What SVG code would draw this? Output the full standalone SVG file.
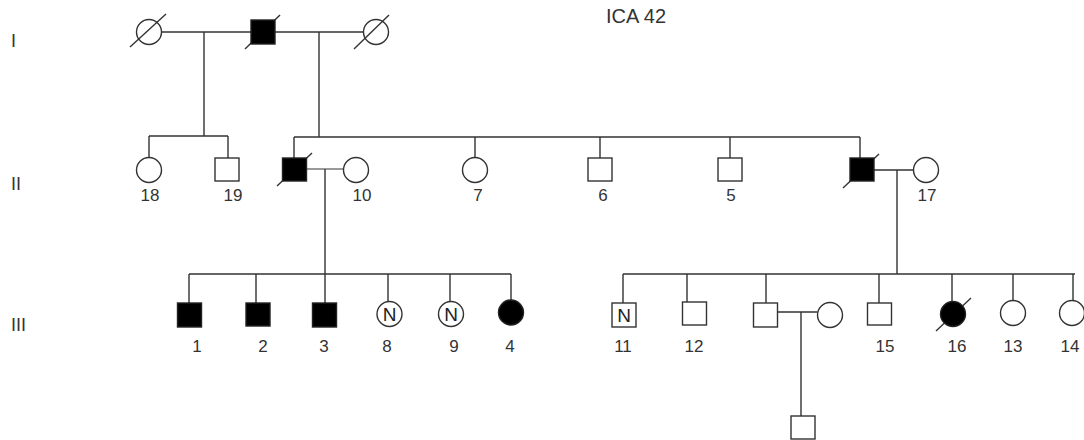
<svg xmlns="http://www.w3.org/2000/svg" width="1084" height="440" viewBox="0 0 1084 440">
<style>
.s{fill:#fff;stroke:#333;stroke-width:1.4}
.a{fill:#000;stroke:#222;stroke-width:1.4}
.l{stroke:#333;stroke-width:1.4;fill:none}
.g{stroke:#777;stroke-width:1.4;fill:none}
.t{font-family:"Liberation Sans",Arial,sans-serif;font-size:17px;fill:#333;text-anchor:middle}
.r{font-family:"Liberation Sans",Arial,sans-serif;font-size:18px;fill:#333}
.n{font-family:"Liberation Sans",Arial,sans-serif;font-size:19px;fill:#222;text-anchor:middle}
</style>
<rect width="1084" height="440" fill="#fff"/>
<text class="r" x="11" y="47">I</text>
<text class="r" x="11" y="190">II</text>
<text class="r" x="11" y="331">III</text>
<text x="606" y="23" font-family="Liberation Sans,Arial,sans-serif" font-size="20" fill="#333">ICA 42</text>
<g id="connectors">
<path class="l" d="M161.5,32H251M275,32H363.5M204,32V136M319,32V137"/>
<path class="l" d="M149,136H228M149,136V157.5M228,136V158"/>
<path class="l" d="M294,137H860M294,137V158M475,137V157.5M600,137V158M730,137V158M860,137V158"/>
<path class="g" d="M306,169H343.5"/>
<path class="l" d="M325,169V274"/>
<path class="l" d="M874,170H913.5M897,170V274"/>
<path class="l" d="M189,274H511M189,274V303M256,274V303M325,274V303M388,274V301.5M450,274V301.5M511,274V300"/>
<path class="l" d="M623,274H1075M623,274V303M687,274V302M766,274V303M879,274V303M952,274V301M1013,274V300.5M1073,274V300.5"/>
<path class="l" d="M778,312H817.5M801,312V416"/>
</g>
<g id="I-1"><circle class="s" cx="149" cy="32" r="12.5"/><path class="l" d="M130,47L166,14"/></g>
<g id="I-2"><path class="l" d="M245,49L280,15"/><rect class="a" x="251" y="20" width="24" height="24"/></g>
<g id="I-3"><circle class="s" cx="376" cy="32" r="12.5"/><path class="l" d="M354,49L389,15"/></g>
<g id="II-18"><circle class="s" cx="149" cy="170" r="12.5"/><text class="t" x="150" y="201">18</text></g>
<g id="II-19"><rect class="s" x="215" y="158" width="24" height="23"/><text class="t" x="233" y="201">19</text></g>
<g id="II-a"><path class="l" d="M277,186L312,153"/><rect class="a" x="282.5" y="158" width="24" height="23"/></g>
<g id="II-10"><circle class="s" cx="356" cy="170" r="12.5"/><text class="t" x="362" y="201">10</text></g>
<g id="II-7"><circle class="s" cx="475" cy="170" r="12.5"/><text class="t" x="478" y="201">7</text></g>
<g id="II-6"><rect class="s" x="588" y="158" width="24" height="23"/><text class="t" x="603" y="201">6</text></g>
<g id="II-5"><rect class="s" x="718" y="158" width="24" height="23"/><text class="t" x="731" y="201">5</text></g>
<g id="II-b"><path class="l" d="M843,188L879,154"/><rect class="a" x="850" y="158" width="24" height="23"/></g>
<g id="II-17"><circle class="s" cx="926" cy="170" r="12.5"/><text class="t" x="927" y="201">17</text></g>
<g id="III-1"><rect class="a" x="177.5" y="303" width="24" height="24"/><text class="t" x="197" y="352">1</text></g>
<g id="III-2"><rect class="a" x="246" y="303" width="24" height="23"/><text class="t" x="263" y="352">2</text></g>
<g id="III-3"><rect class="a" x="312.5" y="303" width="24" height="24"/><text class="t" x="324" y="352">3</text></g>
<g id="III-8"><circle class="s" cx="389.5" cy="314" r="12.5"/><text class="n" x="389.5" y="321">N</text><text class="t" x="387" y="352">8</text></g>
<g id="III-9"><circle class="s" cx="451" cy="314" r="12.5"/><text class="n" x="451" y="321">N</text><text class="t" x="454" y="352">9</text></g>
<g id="III-4"><circle class="a" cx="511" cy="312.5" r="12.5"/><text class="t" x="510" y="352">4</text></g>
<g id="III-11"><rect class="s" x="612" y="303" width="24" height="24"/><text class="n" x="624" y="322">N</text><text class="t" x="623" y="352">11</text></g>
<g id="III-12"><rect class="s" x="682.5" y="302" width="24" height="23"/><text class="t" x="694" y="352">12</text></g>
<g id="III-c"><rect class="s" x="753.5" y="303" width="24" height="24"/></g>
<g id="III-d"><circle class="s" cx="830" cy="315" r="12.5"/></g>
<g id="III-15"><rect class="s" x="867.5" y="303" width="24" height="22"/><text class="t" x="885" y="352">15</text></g>
<g id="III-16"><path class="l" d="M936,331L971,298"/><circle class="a" cx="953" cy="314" r="12.5"/><text class="t" x="957" y="352">16</text></g>
<g id="III-13"><circle class="s" cx="1013" cy="313" r="12.5"/><text class="t" x="1013" y="352">13</text></g>
<g id="III-14"><circle class="s" cx="1072" cy="313" r="12.5"/><text class="t" x="1070" y="352">14</text></g>
<g id="IV-1"><rect class="s" x="791" y="416" width="24" height="23"/></g>
</svg>
